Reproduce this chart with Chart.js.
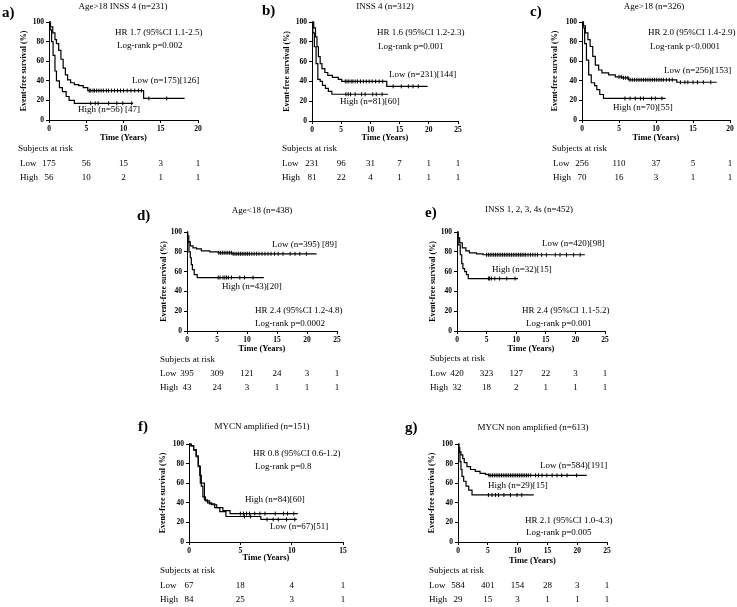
<!DOCTYPE html>
<html><head><meta charset="utf-8">
<script src="https://cdn.jsdelivr.net/npm/chart.js@4"></script>
<style>
body{margin:0;background:#fff;width:737px;height:607px;position:relative;overflow:hidden}
canvas{position:absolute}
</style>
</head><body>
<script>
// ---------- DATA ----------
// Panel a
const aLowT = [0,0.2,0.5,0.8,1.0,1.3,1.6,1.9,2.2,2.5,2.9,3.4,4.0,4.6,5.2,12.7,18.2];
const aLowS = [100,95,89,82,78,71,62,53,46,41,38,36,35,33,30,22,22];
const aHighT = [0,0.15,0.35,0.55,0.8,1.0,1.4,1.8,2.3,2.7,3.4,11.3];
const aHighS = [100,92,80,66,50,40,33,29,24,20,17,17];
const aLowCens = [5.4,5.6,5.9,6.1,6.4,6.7,7.0,7.3,7.7,8.0,8.4,8.8,9.2,9.6,10.0,10.5,11.0,11.5,12.0,12.4,13.4,15.8];
const aHighCens = [5.6,6.2,6.6,8.0,9.1,9.9,11.1];
const aTicks = [0,5,10,15,20];
const aRiskLow = [175,56,15,3,1];
const aRiskHigh = [56,10,2,1,1];
// Panel b
const bLowT = [0,0.3,0.6,0.85,1.1,1.4,1.7,2.2,2.7,3.5,4.5,5.1,12.8,19.8];
const bLowS = [100,94,85,75,65,58,53,49,46,44,42,40,35,35];
const bHighT = [0,0.15,0.4,0.7,1.0,1.4,1.8,2.3,2.8,3.4,13.0];
const bHighS = [100,89,75,58,42,40,36,33,30,27,27];
const bLowCens = [5.7,6.0,6.3,6.7,7.0,7.4,7.8,8.3,8.8,9.3,9.8,10.3,10.9,11.5,12.1,13.9,15.3,16.5,17.3,18.2];
const bHighCens = [5.8,6.2,6.6,7.4,8.5,9.1,10.4,11.0,12.0];
const bTicks = [0,5,10,15,20,25];
const bRiskLow = [231,96,31,7,1,1];
const bRiskHigh = [81,22,4,1,1,1];
// Panel c
const cLowT = [0,0.2,0.45,0.8,1.1,1.45,1.8,2.25,2.7,3.6,4.5,5.4,6.3,12.8,18.2];
const cLowS = [100,96,89,82,75,65,56,51,48,46,44,43,41,38.5,38.5];
const cHighT = [0,0.13,0.36,0.6,0.9,1.25,1.7,2.0,2.4,2.9,11.3];
const cHighS = [100,94,78,61,46,38,35,31,26,22,22];
const cLowCens = [5.0,5.3,5.6,5.9,6.2,6.5,6.8,7.1,7.4,7.7,8.0,8.3,8.6,8.9,9.2,9.5,9.8,10.1,10.4,10.7,11.0,11.4,11.8,12.2,13.3,13.9,14.3,15.0,15.6,16.4,17.4];
const cHighCens = [5.8,6.5,7.2,7.9,8.3,9.4,9.9,10.8];
const cTicks = [0,5,10,15,20];
const cRiskLow = [256,110,37,5,1];
const cRiskHigh = [70,16,3,1,1];
// Panel d
const dLowT = [0,0.1,0.3,0.55,1.0,1.6,2.4,3.8,5.2,7.5,21.6];
const dLowS = [100,96,90,86,84,83,81,80,79,78,78];
const dHighT = [0,0.1,0.33,0.55,0.72,0.9,1.2,1.7,12.8];
const dHighS = [100,90,80,74,67,62,57,54,54];
const dLowCens = [5.3,5.6,5.9,6.2,6.5,6.8,7.1,7.4,7.7,8.0,8.3,8.6,8.9,9.2,9.5,9.8,10.1,10.4,10.8,11.2,11.6,12.0,12.5,13.0,13.5,14.0,14.6,15.2,16.0,17.2,18.0,18.8,19.9];
const dHighCens = [5.2,5.5,6.0,6.3,6.6,6.9,7.4,8.8,9.6,11.0];
const dTicks = [0,5,10,15,20,25];
const dRiskLow = [395,309,121,24,3,1];
const dRiskHigh = [43,24,3,1,1,1];
// Panel e
const eLowT = [0,0.15,0.45,0.9,1.5,2.1,3.3,4.4,21.6];
const eLowS = [100,94,89,84,81,79,78,77,77];
const eHighT = [0,0.2,0.55,0.8,1.0,1.3,1.6,1.9,10.3];
const eHighS = [100,87,77,68,63,60,57,53,53];
const eLowCens = [5.0,5.3,5.6,5.9,6.2,6.5,6.8,7.1,7.4,7.7,8.0,8.3,8.6,8.9,9.2,9.5,9.8,10.1,10.4,10.7,11.0,11.3,11.6,12.0,12.4,12.8,13.2,13.6,14.3,15.1,16.6,17.4,18.5,19.7,20.8];
const eHighCens = [5.3,5.5,5.8,6.4,7.2,8.4,9.8];
const eTicks = [0,5,10,15,20,25];
const eRiskLow = [420,323,127,22,3,1];
const eRiskHigh = [32,18,2,1,1,1];
// Panel f
const fLowT = [0,0.2,0.45,0.7,0.9,1.05,1.2,1.35,1.6,2.0,2.5,3.0,3.6,7.0,10.5];
const fLowS = [100,98,94,88,78,68,57,46,42,39,35,31,26,23,23];
const fHighT = [0,0.2,0.45,0.7,0.9,1.1,1.5,1.8,2.2,2.7,3.3,4.0,10.6];
const fHighS = [100,98,94,87,77,60,43,40,38,35,32,29,29];
const fLowCens = [5.4,6.0,7.6,8.2,8.7,9.5,10.3];
const fHighCens = [5.0,5.3,5.6,5.9,6.4,6.9,7.4,8.4,9.2,9.6,10.2];
const fTicks = [0,5,10,15];
const fRiskLow = [67,18,4,1];
const fRiskHigh = [84,25,3,1];
// Panel g
const gLowT = [0,0.1,0.3,0.5,0.8,1.05,1.5,2.1,2.9,3.7,4.6,5.1,21.6];
const gLowS = [100,96,92,89,85,81,77,74,72,70,69,68,68];
const gHighT = [0,0.17,0.33,0.5,0.67,0.95,1.35,1.8,2.35,12.7];
const gHighS = [100,92,82,74,67,62,57,53,48,48];
const gLowCens = [5.2,5.5,5.8,6.1,6.4,6.7,7.0,7.3,7.6,7.9,8.2,8.5,8.8,9.1,9.4,9.7,10.0,10.3,10.6,10.9,11.2,11.5,11.8,12.2,13.0,13.5,14.1,14.9,15.8,16.6,17.4,18.3,19.9];
const gHighCens = [5.1,5.7,6.3,6.8,7.7,8.8,9.9,10.7];
const gTicks = [0,5,10,15,20,25];
const gRiskLow = [584,401,154,28,3,1];
const gRiskHigh = [29,15,3,1,1,1];

// ---------- LAYOUT ----------
const SERIF = "'Liberation Serif','Times New Roman',serif";
const panels = [
 {letter:'a)', title:'Age>18 INSS 4 (n=231)', hr:'HR 1.7 (95%CI 1.1-2.5)', lr:'Log-rank p=0.002', lowLab:'Low (n=175)[126]', highLab:'High (n=56) [47]',
  lowT:aLowT, lowS:aLowS, highT:aHighT, highS:aHighS, lowC:aLowCens, highC:aHighCens, ticks:aTicks, riskLow:aRiskLow, riskHigh:aRiskHigh,
  box:[0,0,245,195], area:[49,22,198,120], yTitleX:24, timeY:138, letterPos:[2,13], titlePos:[123,7],
  hrPos:[115,33], lrPos:[117,46], lowPos:[132,81], highPos:[78,110], subj:[18,149], rowX:20, lowY:164, highY:178},
 {letter:'b)', title:'INSS 4 (n=312)', hr:'HR 1.6 (95%CI 1.2-2.3)', lr:'Log-rank p=0.001', lowLab:'Low (n=231)[144]', highLab:'High (n=81)[60]',
  lowT:bLowT, lowS:bLowS, highT:bHighT, highS:bHighS, lowC:bLowCens, highC:bHighCens, ticks:bTicks, riskLow:bRiskLow, riskHigh:bRiskHigh,
  box:[245,0,250,195], area:[312,22,458,121], yTitleX:287, timeY:138, letterPos:[262,11], titlePos:[385,7],
  hrPos:[377,33], lrPos:[378,47], lowPos:[389,75], highPos:[340,102], subj:[282,149], rowX:282, lowY:164, highY:178},
 {letter:'c)', title:'Age>18 (n=326)', hr:'HR 2.0 (95%CI 1.4-2.9)', lr:'Log-rank p<0.0001', lowLab:'Low (n=256)[153]', highLab:'High (n=70)[55]',
  lowT:cLowT, lowS:cLowS, highT:cHighT, highS:cHighS, lowC:cLowCens, highC:cHighCens, ticks:cTicks, riskLow:cRiskLow, riskHigh:cRiskHigh,
  box:[495,0,242,195], area:[582,22,730,120], yTitleX:555, timeY:138, letterPos:[530,12], titlePos:[654,7],
  hrPos:[648,33], lrPos:[650,47], lowPos:[664,71], highPos:[613,108], subj:[552,149], rowX:553, lowY:164, highY:178},
 {letter:'d)', title:'Age<18 (n=438)', hr:'HR 2.4 (95%CI 1.2-4.8)', lr:'Log-rank p=0.0002', lowLab:'Low (n=395) [89]', highLab:'High (n=43)[20]',
  lowT:dLowT, lowS:dLowS, highT:dHighT, highS:dHighS, lowC:dLowCens, highC:dHighCens, ticks:dTicks, riskLow:dRiskLow, riskHigh:dRiskHigh,
  box:[130,200,240,200], area:[187,232,337,331], yTitleX:164, timeY:349, letterPos:[137,216], titlePos:[262,211],
  hrPos:[255,311], lrPos:[255,324], lowPos:[272,245], highPos:[222,287], subj:[160,360], rowX:160, lowY:374, highY:388},
 {letter:'e)', title:'INSS 1, 2, 3, 4s (n=452)', hr:'HR 2.4 (95%CI 1.1-5.2)', lr:'Log-rank p=0.001', lowLab:'Low (n=420)[98]', highLab:'High (n=32)[15]',
  lowT:eLowT, lowS:eLowS, highT:eHighT, highS:eHighS, lowC:eLowCens, highC:eHighCens, ticks:eTicks, riskLow:eRiskLow, riskHigh:eRiskHigh,
  box:[400,200,240,200], area:[457,232,605,331], yTitleX:433, timeY:349, letterPos:[425,213], titlePos:[529,210],
  hrPos:[522,311], lrPos:[526,324], lowPos:[542,244], highPos:[492,270], subj:[430,359], rowX:430, lowY:374, highY:388},
 {letter:'f)', title:'MYCN amplified (n=151)', hr:'HR 0.8 (95%CI 0.6-1.2)', lr:'Log-rank p=0.8', lowLab:'Low (n=67)[51]', highLab:'High (n=84)[60]',
  lowT:fLowT, lowS:fLowS, highT:fHighT, highS:fHighS, lowC:fLowCens, highC:fHighCens, ticks:fTicks, riskLow:fRiskLow, riskHigh:fRiskHigh,
  box:[130,415,240,192], area:[189,444,343,542], yTitleX:163, timeY:558, letterPos:[138,427], titlePos:[262,427],
  hrPos:[253,454], lrPos:[255,467], lowPos:[270,527], highPos:[245,500], subj:[160,571], rowX:160, lowY:586, highY:600},
 {letter:'g)', title:'MYCN non amplified (n=613)', hr:'HR 2.1 (95%CI 1.0-4.3)', lr:'Log-rank p=0.005', lowLab:'Low (n=584)[191]', highLab:'High (n=29)[15]',
  lowT:gLowT, lowS:gLowS, highT:gHighT, highS:gHighS, lowC:gLowCens, highC:gHighCens, ticks:gTicks, riskLow:gRiskLow, riskHigh:gRiskHigh,
  box:[400,415,237,192], area:[458,444,607,542], yTitleX:432, timeY:561, letterPos:[405,428], titlePos:[533,428],
  hrPos:[525,521], lrPos:[526,533], lowPos:[540,466], highPos:[488,486], subj:[429,571], rowX:429, lowY:586, highY:600}
];

function stepAt(T, S, t){ let v = S[0]; for (let i=0;i<T.length;i++){ if (T[i] <= t) v = S[i]; } return v; }
function pts(T, S){ return T.map((t,i)=>({x:t, y:S[i]})); }
function cens(T, S, C){ return C.map(t=>({x:t, y:stepAt(T,S,t)})); }

const yTitleFont = {family:SERIF, size:8, weight:'bold', lineHeight:1.2};
const xTitleFont = {family:SERIF, size:8.5, weight:'bold', lineHeight:1.2};
const tickFont = {family:SERIF, size:7.5, weight:'bold'};

panels.forEach(p => {
  const [bl, bt, bw, bh] = p.box;
  const [L, T, R, B] = p.area;
  const cv = document.createElement('canvas');
  cv.width = bw; cv.height = bh;
  cv.style.left = bl + 'px'; cv.style.top = bt + 'px';
  cv.style.width = bw + 'px'; cv.style.height = bh + 'px';
  document.body.appendChild(cv);

  const yLh = yTitleFont.size * yTitleFont.lineHeight;
  const xLh = xTitleFont.size * xTitleFont.lineHeight;
  const padLeft = p.yTitleX - yLh/2 - bl;
  const Wy = L - bl - padLeft;
  const Hx = p.timeY - B + xLh/2;
  const padBottom = bt + bh - B - Hx;
  const padTop = T - bt;
  const padRight = bl + bw - R;

  const txt = (ctx, s, x, y, font, align) => {
    ctx.save(); ctx.font = font; ctx.fillStyle = '#000';
    ctx.textAlign = align || 'left'; ctx.textBaseline = 'middle';
    ctx.fillText(s, x - bl, y - bt); ctx.restore();
  };

  const textPlugin = {
    id: 'kmText',
    afterDraw(chart){
      const ctx = chart.ctx;
      const f9 = '9px ' + SERIF;
      txt(ctx, p.letter, p.letterPos[0], p.letterPos[1], 'bold 15px ' + SERIF);
      txt(ctx, p.title, p.titlePos[0], p.titlePos[1], f9, 'center');
      txt(ctx, p.hr, p.hrPos[0], p.hrPos[1], f9);
      txt(ctx, p.lr, p.lrPos[0], p.lrPos[1], f9);
      txt(ctx, p.lowLab, p.lowPos[0], p.lowPos[1], f9);
      txt(ctx, p.highLab, p.highPos[0], p.highPos[1], f9);
      txt(ctx, 'Subjects at risk', p.subj[0], p.subj[1], f9);
      txt(ctx, 'Low', p.rowX, p.lowY, f9);
      txt(ctx, 'High', p.rowX, p.highY, f9);
      const xs = chart.scales.x;
      p.ticks.forEach((t, i) => {
        const x = xs.getPixelForValue(t) + bl;
        txt(ctx, String(p.riskLow[i]), x, p.lowY, f9, 'center');
        txt(ctx, String(p.riskHigh[i]), x, p.highY, f9, 'center');
      });
    }
  };

  const curve = (data) => ({data, stepped:true, borderColor:'#000', borderWidth:1.2, pointRadius:0, fill:false, clip:false, showLine:true});
  const censor = (data) => ({data, showLine:false, pointStyle:'line', rotation:90, pointRadius:2, pointBorderWidth:1, borderColor:'#000', pointBorderColor:'#000', backgroundColor:'#000', clip:false});

  new Chart(cv, {
    type: 'line',
    data: { datasets: [
      curve(pts(p.lowT, p.lowS)),
      curve(pts(p.highT, p.highS)),
      censor(cens(p.lowT, p.lowS, p.lowC)),
      censor(cens(p.highT, p.highS, p.highC))
    ]},
    options: {
      responsive:false, animation:false, events:[],
      layout:{padding:{left:padLeft, right:padRight, top:padTop, bottom:padBottom}},
      plugins:{legend:{display:false}, tooltip:{enabled:false}, title:{display:false}},
      scales:{
        x:{type:'linear', min:0, max:p.ticks[p.ticks.length-1],
           afterBuildTicks(s){ s.ticks = p.ticks.map(v=>({value:v})); },
           ticks:{font:tickFont, color:'#000', padding:2, maxRotation:0, autoSkip:false},
           grid:{drawOnChartArea:false, drawTicks:true, tickLength:3, color:'#000', lineWidth:1},
           border:{color:'#000', width:1},
           title:{display:true, text:'Time (Years)', font:xTitleFont, color:'#000', padding:0},
           afterFit(s){ s.height = Hx; s.paddingLeft = 0; s.paddingRight = 0; }},
        y:{type:'linear', min:0, max:100,
           ticks:{stepSize:20, font:tickFont, color:'#000', padding:2},
           grid:{drawOnChartArea:false, drawTicks:true, tickLength:3, color:'#000', lineWidth:1},
           border:{color:'#000', width:1},
           title:{display:true, text:'Event-free survival (%)', font:yTitleFont, color:'#000', padding:0},
           afterFit(s){ s.width = Wy; s.paddingTop = 0; s.paddingBottom = 0; }}
      }
    },
    plugins:[textPlugin]
  });
});
</script>
</body></html>
